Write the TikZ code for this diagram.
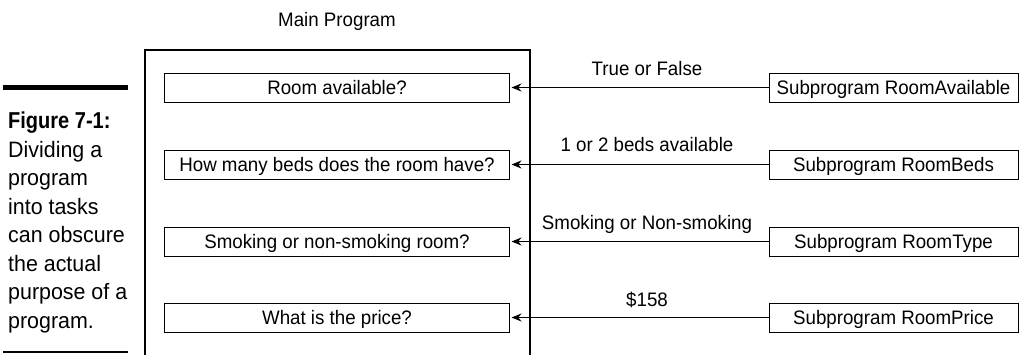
\documentclass[tikz,border=0pt]{standalone}
\usepackage{fontspec}
\setmainfont{Liberation Sans}[FakeStretch=0.96]
\newfontfamily\figboldfont{Liberation Sans}[FakeStretch=0.87]
\usetikzlibrary{arrows.meta}
\begin{document}
\begin{tikzpicture}[x=1bp,y=-1bp,
  txt/.style={font=\fontsize{19.5bp}{23bp}\selectfont, inner sep=0pt},
  capline/.style={font=\fontsize{22.3bp}{28.5bp}\selectfont, inner sep=0pt, anchor=base west},
  taskbox/.style={draw, line width=1bp, minimum width=344bp, minimum height=29bp, inner sep=0pt,
    text height=14bp, text depth=0pt, font=\fontsize{19.5bp}{23bp}\selectfont},
  subbox/.style={draw, line width=1bp, minimum width=249bp, minimum height=29bp, inner sep=0pt,
    text height=14bp, text depth=0pt, font=\fontsize{19.5bp}{23bp}\selectfont},
  conn/.style={-{Stealth[length=10bp,width=8bp]}, line width=1bp, shorten >=2bp},
  lbl/.style={txt, anchor=base}]
\useasboundingbox (0,0) rectangle (1019,354);

% main program frame
\node[txt, anchor=base] (mainlbl) at (337,26) {Main Program};
\draw[line width=2bp] (145,358) -- (145,50) -- (530,50) -- (530,358);

% task boxes
\node[taskbox] (t1) at (337,87.5) {Room available?};
\node[taskbox] (t2) at (337,164.5) {How many beds does the room have?};
\node[taskbox] (t3) at (337,241.5) {Smoking or non-smoking room?};
\node[taskbox] (t4) at (337,317.5) {What is the price?};

% subprogram boxes
\node[subbox] (s1) at (893.5,87.5) {Subprogram RoomAvailable};
\node[subbox] (s2) at (893.5,164.5) {Subprogram RoomBeds};
\node[subbox] (s3) at (893.5,241.5) {Subprogram RoomType};
\node[subbox] (s4) at (893.5,317.5) {Subprogram RoomPrice};

% connectors
\draw[conn] (s1.west) -- (t1.east);
\draw[conn] (s2.west) -- (t2.east);
\draw[conn] (s3.west) -- (t3.east);
\draw[conn] (s4.west) -- (t4.east);

% connector labels
\node[lbl] (l1) at (647,75) {True or False};
\node[lbl] (l2) at (647,151) {1 or 2 beds available};
\node[lbl] (l3) at (647,229) {Smoking or Non-smoking};
\node[lbl] (l4) at (647,306) {\$158};

% caption
\draw[line width=4.5bp] (3,87.5) -- (128,87.5);
\draw[line width=2bp] (3,352) -- (128,352);
\node[capline, font=\fontsize{23bp}{28.5bp}\selectfont\figboldfont\bfseries] (c0) at (8,128) {Figure 7-1:};
\node[capline] (c1) at (8,157) {Dividing a};
\node[capline] (c2) at (8,185) {program};
\node[capline] (c3) at (8,214) {into tasks};
\node[capline] (c4) at (8,242) {can obscure};
\node[capline] (c5) at (8,271) {the actual};
\node[capline] (c6) at (8,299) {purpose of a};
\node[capline] (c7) at (8,328) {program.};
\end{tikzpicture}
\end{document}
